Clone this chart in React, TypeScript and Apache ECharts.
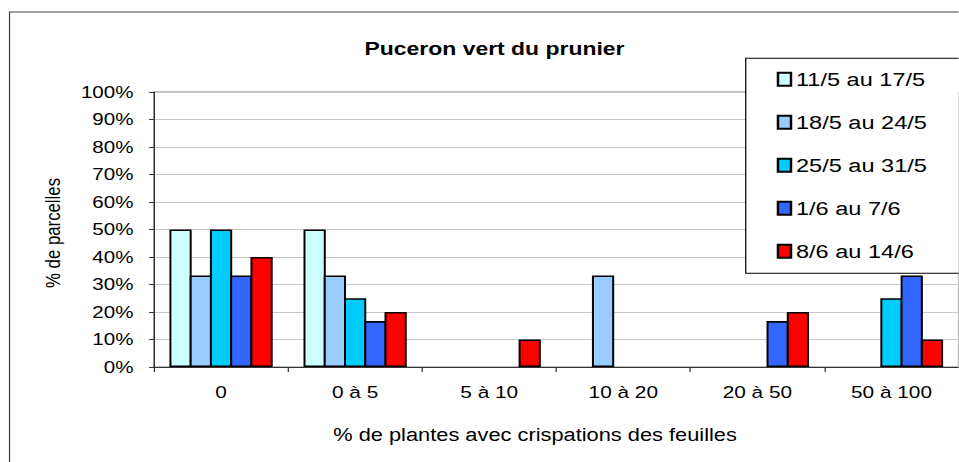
import React, { useEffect, useRef } from "react";
import * as echarts from "echarts";

const categories = ["0", "0 à 5", "5 à 10", "10 à 20", "20 à 50", "50 à 100"];
const seriesNames = ["11/5 au 17/5", "18/5 au 24/5", "25/5 au 31/5", "1/6 au 7/6", "8/6 au 14/6"];
const s1 = [50, 50, 0, 0, 0, 0];
const s2 = [33.3, 33.3, 0, 33.3, 0, 0];
const s3 = [50, 25, 0, 0, 0, 25];
const s4 = [33.3, 16.7, 0, 0, 16.7, 33.3];
const s5 = [40, 20, 10, 0, 20, 10];
const colors = ["#CCFFFF", "#99CCFF", "#00CCFF", "#3366FF", "#FF0000"];
const yTicks = [0, 10, 20, 30, 40, 50, 60, 70, 80, 90, 100];

const SX = 1.24;
const W = 773;
const H = 462;
const FONT = '"Liberation Sans", Arial, sans-serif';

export default function App() {
  const ref = useRef<HTMLDivElement>(null);
  useEffect(() => {
    if (!ref.current) return;
    const chart = echarts.init(ref.current, null, { renderer: "svg" });
    const data = [s1, s2, s3, s4, s5];
    chart.setOption({
      animation: false,
      backgroundColor: "#ffffff",
      textStyle: { fontFamily: FONT },
      grid: {
        left: 124.2,
        top: 92,
        width: 653.2,
        height: 275,
        show: true,
        borderColor: "#808080",
        borderWidth: 1,
      },
      legend: {
        orient: "vertical",
        left: 601.4,
        top: 58.3,
        data: seriesNames,
        icon: "rect",
        itemWidth: 10.5,
        itemHeight: 13,
        itemGap: 24,
        padding: [11.5, 36, 12.5, 25],
        backgroundColor: "#ffffff",
        borderColor: "#000000",
        borderWidth: 1,
        textStyle: { fontSize: 19, color: "#000", fontFamily: FONT, padding: [0, 0, 0, -1] },
      },
      xAxis: {
        type: "category",
        data: categories,
        axisLine: { lineStyle: { color: "#333", width: 1 } },
        axisTick: { show: true, length: 5, lineStyle: { color: "#333" } },
        axisLabel: { color: "#000", fontSize: 16.8, margin: 17, fontFamily: FONT },
      },
      yAxis: {
        type: "value",
        min: 0,
        max: 100,
        interval: 10,
        axisLine: { show: true, lineStyle: { color: "#333", width: 1 } },
        axisTick: { show: true, length: 4, lineStyle: { color: "#333" } },
        axisLabel: {
          color: "#000",
          fontSize: 16.6,
          margin: 16.5,
          fontFamily: FONT,
          formatter: (v: number) => (yTicks.includes(v) ? v + "%" : ""),
        },
        splitLine: { show: true, lineStyle: { color: "#c8c8c8", width: 1 } },
      },
      series: seriesNames.map((name, i) => ({
        name,
        type: "bar",
        data: data[i].map((v) => (v === 0 ? null : v)),
        barGap: "-9%",
        barCategoryGap: "23%",
        itemStyle: { color: colors[i], borderColor: "#000", borderWidth: 1.6 },
      })),
      graphic: [
        {
          type: "rect",
          shape: { x: 7.7, y: 12, width: 2000, height: 2000 },
          style: { fill: "none", stroke: "#404040", lineWidth: 1 },
          z: 100,
          silent: true,
        },
        {
          type: "text",
          x: 398.8,
          y: 48.5,
          style: {
            text: "Puceron vert du prunier",
            font: `bold 18.5px ${FONT}`,
            fill: "#000",
            textAlign: "center",
            textVerticalAlign: "middle",
          },
        },
        {
          type: "text",
          x: 42.9,
          y: 233,
          rotation: Math.PI / 2,
          style: {
            text: "% de parcelles",
            font: `16.8px ${FONT}`,
            fill: "#000",
            textAlign: "center",
            textVerticalAlign: "middle",
          },
        },
        {
          type: "text",
          x: 431.5,
          y: 435,
          style: {
            text: "% de plantes avec crispations des feuilles",
            font: `17.6px ${FONT}`,
            fill: "#000",
            textAlign: "center",
            textVerticalAlign: "middle",
          },
        },
      ],
    });
    return () => chart.dispose();
  }, []);
  return (
    <div
      ref={ref}
      style={{
        position: "absolute",
        left: 0,
        top: 0,
        width: W + "px",
        height: H + "px",
        transform: `scaleX(${SX})`,
        transformOrigin: "0 0",
        background: "#fff",
      }}
    />
  );
}
